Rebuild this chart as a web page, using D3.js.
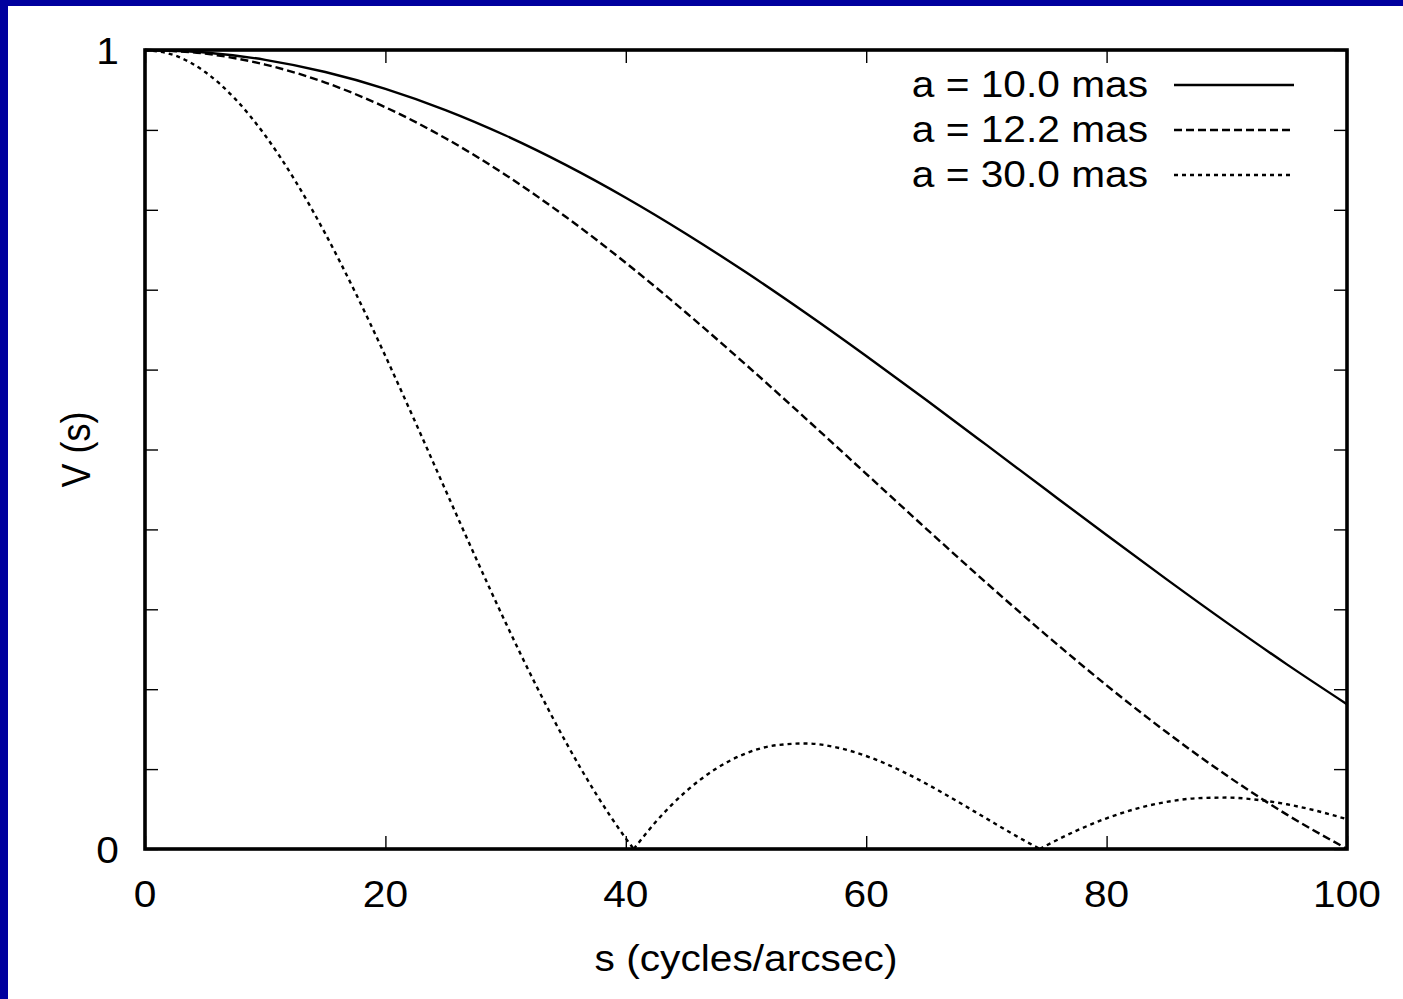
<!DOCTYPE html>
<html>
<head>
<meta charset="utf-8">
<script src="https://cdn.jsdelivr.net/npm/d3@7"></script>
<style>
  html, body { margin: 0; padding: 0; background: #ffffff; }
  svg { display: block; }
  text { font-family: "Liberation Sans", Arial, Helvetica, sans-serif; fill: #000; }
</style>
</head>
<body>
<script>
// Uniform-disk visibility curves V(s) for three angular diameters.

// spatial frequency samples (cycles/arcsec) for the two wider curves
const sCoarse = [0, 5, 10, 15, 20, 25, 30, 35, 40, 45, 50, 55, 60, 65, 70, 75, 80, 85, 90, 95, 100];

const v10 = [1, 0.99692, 0.98771, 0.97250, 0.95146, 0.92485, 0.89300, 0.85630, 0.81518, 0.77013,
             0.72170, 0.67045, 0.61696, 0.56185, 0.50574, 0.44923, 0.39294, 0.33745, 0.28332, 0.23107, 0.18119];

const v122 = [1, 0.99542, 0.98175, 0.95925, 0.92833, 0.88954, 0.84359, 0.79131, 0.73360, 0.67149,
              0.60605, 0.53837, 0.46958, 0.40078, 0.33306, 0.26742, 0.20480, 0.14606, 0.09192, 0.04300, 0.0002];

// finer samples for the 30 mas disk, including its two nulls
const sFine = [0, 2.5, 5, 7.5, 10, 12.5, 15, 17.5, 20, 22.5, 25, 27.5, 30, 32.5, 35, 37.5, 40, 40.66,
               42.5, 45, 47.5, 50, 52.5, 55, 57.5, 60, 62.5, 65, 67.5, 70, 72.5, 74.44,
               75, 77.5, 80, 82.5, 85, 87.5, 90, 92.5, 95, 97.5, 100];

const v30 = [1, 0.99308, 0.97250, 0.93883, 0.89300, 0.83626, 0.77013, 0.69639, 0.61696, 0.53388,
             0.44923, 0.36506, 0.28332, 0.20581, 0.13412, 0.06960, 0.01330, 0,
             0.03403, 0.07197, 0.10041, 0.11972, 0.12987, 0.13213, 0.12727, 0.11640, 0.10075, 0.08165,
             0.06034, 0.03812, 0.01616, 0,
             0.00449, 0.02295, 0.03845, 0.05058, 0.05897, 0.06353, 0.06437, 0.06160, 0.05596, 0.04768, 0.03725];

const seriesLabels = ["a = 10.0 mas", "a = 12.2 mas", "a = 30.0 mas"];

const xTicks = [0, 20, 40, 60, 80, 100];
const yTicks = [0, 0.1, 0.2, 0.3, 0.4, 0.5, 0.6, 0.7, 0.8, 0.9, 1];
const yTickLabels = ["0", "", "", "", "", "", "", "", "", "", "1"];

const xTitle = "s (cycles/arcsec)";
const yTitle = "V (s)";

// ---------------------------------------------------------------------------

const W = 1403, H = 999;
const plot = { left: 145, right: 1347, top: 50, bottom: 849 };
const FONT = 36;
const SX = 1.13;       // horizontal stretch of the lettering
const LW = 2.4;

const svg = d3.select("body").append("svg")
  .attr("width", W).attr("height", H);

svg.append("rect").attr("width", W).attr("height", H).attr("fill", "#ffffff");
// blue frame strips on left and top edges
svg.append("rect").attr("x", 0).attr("y", 0).attr("width", 8).attr("height", H).attr("fill", "#00009e");
svg.append("rect").attr("x", 0).attr("y", 0).attr("width", W).attr("height", 6).attr("fill", "#00009e");

const x = d3.scaleLinear().domain([0, 100]).range([plot.left, plot.right]);
const y = d3.scaleLinear().domain([0, 1]).range([plot.bottom, plot.top]);

const series = [
  { label: seriesLabels[0], s: sCoarse, v: v10,  dash: null },
  { label: seriesLabels[1], s: sCoarse, v: v122, dash: "8,4" },
  { label: seriesLabels[2], s: sFine,   v: v30,  dash: "4,4" }
];

function put(sel, px, py) {
  return sel.attr("transform", `translate(${px},${py}) scale(${SX},1)`);
}

// inward ticks on all four sides
const tickLen = 13;

const bottomAxis = d3.axisBottom(x).tickValues(xTicks).tickSize(-tickLen).tickFormat("");
const topAxis = d3.axisTop(x).tickValues(xTicks).tickSize(-tickLen).tickFormat("");
const leftAxis = d3.axisLeft(y).tickValues(yTicks).tickSize(-tickLen).tickFormat("");
const rightAxis = d3.axisRight(y).tickValues(yTicks).tickSize(-tickLen).tickFormat("");

[[bottomAxis, `translate(0,${plot.bottom})`], [topAxis, `translate(0,${plot.top})`],
 [leftAxis, `translate(${plot.left},0)`], [rightAxis, `translate(${plot.right},0)`]]
  .forEach(([ax, tr]) => {
    const g = svg.append("g").attr("transform", tr).call(ax);
    g.select(".domain").remove();
    g.selectAll(".tick line").attr("stroke", "#000").attr("stroke-width", 1.4);
  });

// tick labels
xTicks.forEach(t => {
  put(svg.append("text"), x(t), 907)
    .attr("text-anchor", "middle")
    .attr("font-size", FONT)
    .text(String(t));
});
yTicks.forEach((t, i) => {
  if (!yTickLabels[i]) return;
  put(svg.append("text"), 119, y(t) + 14)
    .attr("text-anchor", "end")
    .attr("font-size", FONT)
    .text(yTickLabels[i]);
});

// axis titles
put(svg.append("text"), (plot.left + plot.right) / 2, 971)
  .attr("text-anchor", "middle")
  .attr("font-size", FONT)
  .text(xTitle);

svg.append("text")
  .attr("transform", `translate(90,${(plot.top + plot.bottom) / 2}) rotate(-90) scale(1,${SX})`)
  .attr("text-anchor", "middle")
  .attr("font-size", FONT)
  .text(yTitle);

// curves; a series is split at its interior nulls so each lobe keeps a sharp cusp
const line = d3.line()
  .x(d => x(d[0]))
  .y(d => y(d[1]))
  .curve(d3.curveMonotoneX);

function lobes(s, v) {
  const out = [];
  let cur = [];
  s.forEach((sv, i) => {
    cur.push([sv, v[i]]);
    if (v[i] === 0 && i > 0 && i < s.length - 1) {
      out.push(cur);
      cur = [[sv, v[i]]];
    }
  });
  out.push(cur);
  return out;
}

const curveG = svg.append("g");
series.forEach(sr => {
  lobes(sr.s, sr.v).forEach(seg => {
    curveG.append("path")
      .attr("d", line(seg))
      .attr("fill", "none")
      .attr("stroke", "#000")
      .attr("stroke-width", LW)
      .attr("stroke-dasharray", sr.dash);
  });
});

// legend
const legendRowY = [85, 130, 175];
series.forEach((sr, i) => {
  put(svg.append("text"), 1148, legendRowY[i] + 12)
    .attr("text-anchor", "end")
    .attr("font-size", FONT)
    .text(sr.label);
  svg.append("line")
    .attr("x1", 1174).attr("x2", 1294)
    .attr("y1", legendRowY[i]).attr("y2", legendRowY[i])
    .attr("stroke", "#000")
    .attr("stroke-width", LW)
    .attr("stroke-dasharray", sr.dash);
});

// plot frame
svg.append("rect")
  .attr("x", plot.left).attr("y", plot.top)
  .attr("width", plot.right - plot.left).attr("height", plot.bottom - plot.top)
  .attr("fill", "none")
  .attr("stroke", "#000")
  .attr("stroke-width", 3.6);
</script>
</body>
</html>
